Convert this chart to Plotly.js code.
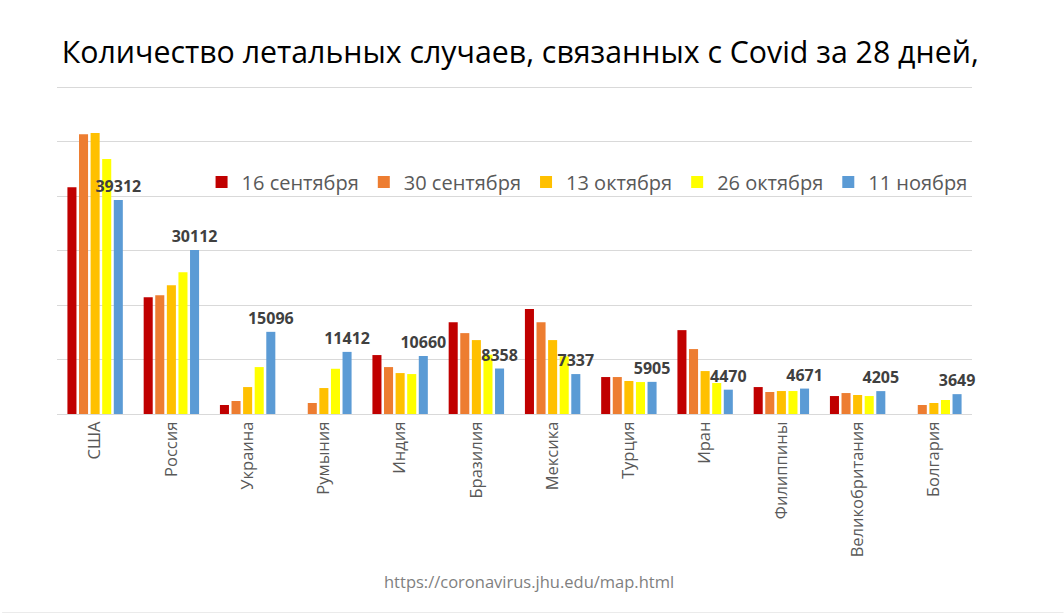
<!DOCTYPE html>
<html><head><meta charset="utf-8">
<script src="https://cdn.plot.ly/plotly-3.0.1.min.js"></script>
<style>html,body{margin:0;padding:0;background:#fff;}#chart{width:1064px;height:613px;}</style>
</head><body><div id="chart"></div>
<script>
const countries = ["США","Россия","Украина","Румыния","Индия","Бразилия","Мексика","Турция","Иран","Филиппины","Великобритания","Болгария"];
const seriesNames = ["16 сентября","30 сентября","13 октября","26 октября","11 ноября"];
const sep16 = [41650,21470,1650,0,10830,16880,19270,6790,15410,4950,3300,0];
const sep30 = [51380,21840,2390,2020,8620,14860,16880,6790,11930,4040,3850,1650];
const oct13 = [51620,23670,4950,4770,7520,13580,13580,6060,7890,4220,3490,2020];
const oct26 = [46850,26060,8620,8310,7340,10900,10600,5870,5690,4220,3300,2570];
const nov11 = [39312,30112,15096,11412,10660,8358,7337,5905,4470,4671,4205,3649];
const colors = ["#C00000","#ED7D31","#FFC000","#FFFF00","#5B9BD5"];
const values = [sep16, sep30, oct13, oct26, nov11];

const traces = values.map((v, i) => {
  const t = {type:"bar", name: seriesNames[i], x: countries, y: v, marker:{color: colors[i]}, hoverinfo:"none"};
  if (i === 4) {
    t.text = v.map(String);
    t.textposition = "outside";
    t.constraintext = "none";
    t.cliponaxis = false;
    t.textfont = {family:"Open Sans", size:16, color:"#404040", weight:"bold"};
  }
  return t;
});

const layout = {
  width:1064, height:613,
  paper_bgcolor:"#ffffff", plot_bgcolor:"#ffffff",
  margin:{l:57, r:92, t:82, b:199},
  barmode:"group", bargap:0.24, bargroupgap:0.22,
  title:{text:"Количество летальных случаев, связанных с Covid за 28 дней,", x:0.058, xanchor:"left", y:0.915, yanchor:"middle",
         font:{family:"Open Sans", size:30.3, color:"#000000"}},
  xaxis:{tickangle:-90, tickfont:{family:"Open Sans", size:16.5, color:"#595959"}, showline:true, linecolor:"#d9d9d9", linewidth:1, ticks:"", fixedrange:true},
  yaxis:{range:[0,61000], tickvals:[10000,20000,30000,40000,50000,60000], showticklabels:false, gridcolor:"#d9d9d9", gridwidth:1, zeroline:false, showline:false, ticks:""},
  showlegend:true,
  legend:{orientation:"h", x:0.158, xanchor:"left", y:0.699, yanchor:"middle", font:{family:"Open Sans", size:20, color:"#595959"}, bgcolor:"rgba(0,0,0,0)", itemclick:false, itemdoubleclick:false},
  annotations:[{text:"https://coronavirus.jhu.edu/map.html", xref:"paper", yref:"paper", x:0.516, y:-0.506, xanchor:"center", yanchor:"middle", showarrow:false,
    font:{family:"Open Sans", size:16.5, color:"#7f7f7f"}}],
  shapes:[{type:"line", xref:"paper", yref:"paper", x0:-0.06, x1:1.1, y0:-0.6, y1:-0.6, line:{color:"#bfbfbf", width:1}}]
};
Plotly.newPlot("chart", traces, layout, {staticPlot:true, displayModeBar:false});
</script></body></html>
